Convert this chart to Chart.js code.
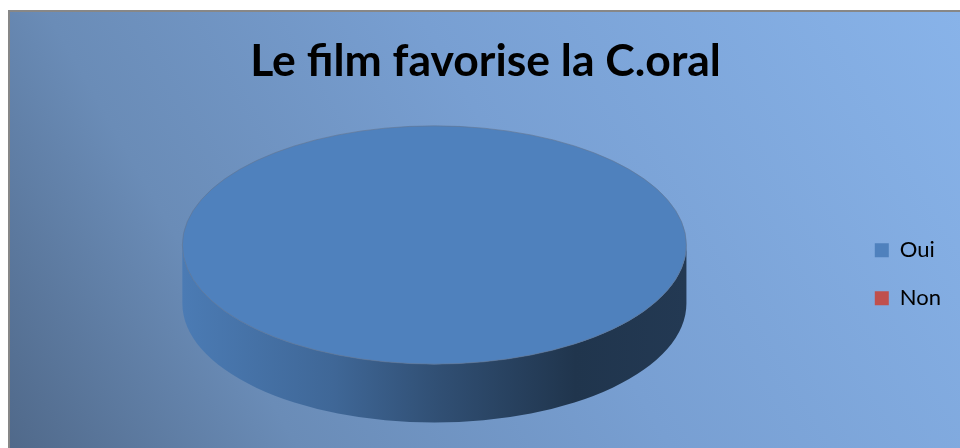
<!DOCTYPE html>
<html lang="fr">
<head>
<meta charset="UTF-8">
<title>Le film favorise la C.oral</title>
<style>
    html, body {
        margin: 0;
        padding: 0;
        background: #fff;
    }
    body {
        width: 960px;
        height: 448px;
        overflow: hidden;
        position: relative;
    }
    .frame {
        position: absolute;
        left: 8px;
        top: 10px;
        width: 950px;
        height: 436px;
        border-top: 2px solid #878787;
        border-left: 2px solid #878787;
        background: linear-gradient(60deg, #50698a 0%, #6a8cb7 24%, #789fd2 55%, #88b3e9 100%);
    }
    .frame canvas {
        display: block;
    }
</style>
</head>
<body>
<div class="frame"><canvas id="chart" width="950" height="436"></canvas></div>
<script src="https://cdn.jsdelivr.net/npm/chart.js"></script>
<script>
    const chartTitle = 'Le film favorise la C.oral';
    const categories = ['Oui', 'Non'];
    const values = [100, 0];
    const colors = ['#4f81bd', '#c0504d'];

    function shade(hex, f) {
        var n = parseInt(hex.slice(1), 16);
        var r = (n >> 16) & 255, g = (n >> 8) & 255, b = n & 255;
        return 'rgb(' + Math.round(r * f) + ',' + Math.round(g * f) + ',' + Math.round(b * f) + ')';
    }

    // squash the pie into an ellipse and extrude the front half
    const pie3d = {
        id: 'pie3d',
        beforeDatasetsDraw(chart, args, opts) {
            var ctx = chart.ctx;
            var meta = chart.getDatasetMeta(0);
            var first = meta.data[0];
            if (!first) return;
            var r = first.outerRadius;
            var cx = first.x;
            var depth = r * opts.depth;
            var cy = first.y - depth / 2;
            var rx = r * opts.scaleX, ry = r * opts.scaleY;
            this._geo = { cx: cx, cy: cy, rx: rx, ry: ry };

            meta.data.forEach(function (arc, i) {
                var a0 = arc.startAngle, a1 = arc.endAngle;
                if (a1 - a0 <= 0) return;
                var base = colors[i];
                var grad = ctx.createLinearGradient(cx - rx, 0, cx + rx, 0);
                grad.addColorStop(0, shade(base, 0.95));
                grad.addColorStop(0.3, shade(base, 0.8));
                grad.addColorStop(0.5, shade(base, 0.62));
                grad.addColorStop(0.78, shade(base, 0.41));
                grad.addColorStop(1, shade(base, 0.44));
                for (var k = -1; k <= 1; k++) {
                    var s = Math.max(a0, k * 2 * Math.PI);
                    var e = Math.min(a1, k * 2 * Math.PI + Math.PI);
                    if (e <= s) continue;
                    ctx.beginPath();
                    ctx.ellipse(cx, cy, rx, ry, 0, s, e, false);
                    ctx.ellipse(cx, cy + depth, rx, ry, 0, e, s, true);
                    ctx.closePath();
                    ctx.fillStyle = grad;
                    ctx.fill();
                }
            });

            ctx.save();
            ctx.translate(cx, cy);
            ctx.scale(opts.scaleX, opts.scaleY);
            ctx.translate(-cx, -first.y);
        },
        afterDatasetsDraw(chart) {
            var ctx = chart.ctx;
            ctx.restore();
            var g = this._geo;
            if (!g) return;
            ctx.save();
            ctx.beginPath();
            ctx.ellipse(g.cx, g.cy, g.rx, g.ry, 0, 0, Math.PI * 2);
            ctx.lineWidth = 1;
            ctx.strokeStyle = 'rgba(100, 118, 145, 0.6)';
            ctx.stroke();
            ctx.restore();
        }
    };

    Chart.defaults.font.family = 'Lato';

    new Chart(document.getElementById('chart'), {
        type: 'pie',
        data: {
            labels: categories,
            datasets: [{
                data: values,
                backgroundColor: colors,
                borderWidth: 0
            }]
        },
        options: {
            responsive: false,
            animation: false,
            events: [],
            layout: {
                padding: { left: 10, right: 9, top: 0, bottom: 6 }
            },
            plugins: {
                pie3d: { scaleX: 1.502, scaleY: 0.71, depth: 0.348 },
                title: {
                    display: true,
                    text: chartTitle,
                    color: '#000',
                    font: { family: 'Lato', size: 44.5, weight: 'bold' },
                    padding: { top: 23, bottom: 18 }
                },
                legend: {
                    position: 'right',
                    fullSize: false,
                    labels: {
                        boxWidth: 14,
                        boxHeight: 14,
                        padding: 26,
                        color: '#000',
                        font: { family: 'Lato', size: 22 },
                        generateLabels: function () {
                            return categories.map(function (c, i) {
                                return {
                                    text: c,
                                    fillStyle: colors[i],
                                    strokeStyle: colors[i],
                                    lineWidth: 0,
                                    fontColor: '#000',
                                    hidden: false,
                                    index: i
                                };
                            });
                        }
                    }
                },
                tooltip: { enabled: false }
            }
        },
        plugins: [pie3d]
    });
</script>
</body>
</html>
